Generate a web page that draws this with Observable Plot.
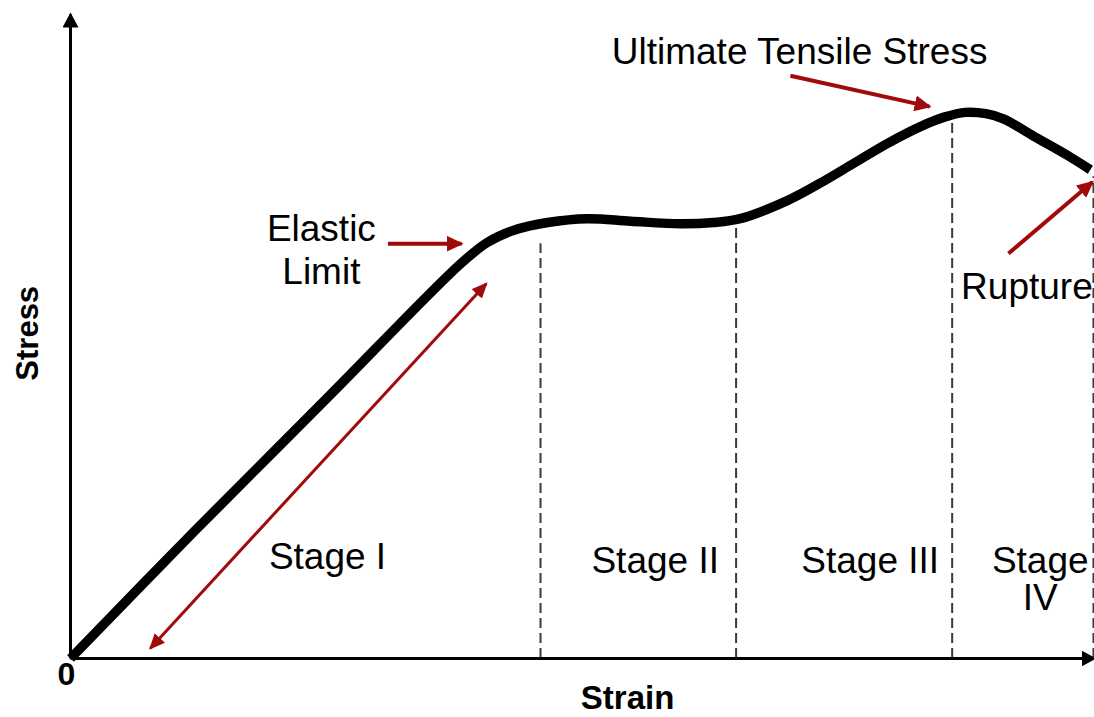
<!DOCTYPE html>
<html>
<head>
<meta charset="utf-8">
<script src="https://cdn.jsdelivr.net/npm/d3@7"></script>
<script src="https://cdn.jsdelivr.net/npm/@observablehq/plot@0.6"></script>
<style>
  html, body { margin: 0; padding: 0; background: #fff; }
  #chart { width: 1094px; height: 717px; overflow: hidden; }
  svg { overflow: visible; }
</style>
</head>
<body>
<div id="chart"></div>
<script>
// ---- Data (arbitrary units, 0–100 on both axes) ----
const strain = [0, 12.0, 25.1, 38.1, 40.7, 43.3, 46.6, 50.5, 54.7, 59.6, 62.8, 65.4, 70.0, 73.2, 76.5, 79.8, 83.0, 85.4, 87.4, 89.4, 91.1, 94.4, 97.7, 99.6];
const stress = [0, 19.6, 40.5, 61.3, 64.6, 66.5, 67.7, 68.3, 67.9, 67.5, 67.7, 68.3, 71.1, 73.8, 76.9, 80.0, 82.6, 84.1, 84.8, 84.6, 83.8, 80.8, 77.8, 75.9];

// stage boundaries (dashed verticals): strain position and top
const boundaryX = [45.9, 65.0, 86.1, 99.9];
const boundaryTop = [64.4, 67.1, 83.9, 74.8];

// stage labels
const stageLabels = ["Stage I", "Stage II", "Stage III", "Stage\nIV"];
const stageLabelX = [25.1, 57.1, 78.1, 94.7];
const stageLabelY = [15.8, 15.1, 15.1, 12.3];

// annotation labels
const noteLabels = ["Elastic\nLimit", "Ultimate Tensile Stress", "Rupture"];
const noteX = [24.5, 71.2, 93.4];
const noteY = [63.6, 94.4, 57.9];

// annotation arrows (single-headed)
const arrowX1 = [31.0, 70.3, 91.6];
const arrowY1 = [64.4, 90.5, 62.9];
const arrowX2 = [38.2, 83.9, 99.8];
const arrowY2 = [64.4, 85.7, 74.0];

// stage I double-headed arrow
const spanX = [7.8, 40.6];
const spanY = [1.6, 58.2];

// ---- tables built from arrays ----
const curve = strain.map((x, i) => ({x, y: stress[i]}));
const boundaries = boundaryX.map((x, i) => ({x, top: boundaryTop[i]}));
const stages = stageLabels.map((t, i) => ({t, x: stageLabelX[i], y: stageLabelY[i]}));
const notes = noteLabels.map((t, i) => ({t, x: noteX[i], y: noteY[i]}));
const arrows = arrowX1.map((x1, i) => ({x1, y1: arrowY1[i], x2: arrowX2[i], y2: arrowY2[i]}));
const span = [{x1: spanX[0], y1: spanY[0], x2: spanX[1], y2: spanY[1]}];

const RED = "#a00a0a";
const FONT = "'Liberation Sans', Arial, Helvetica, sans-serif";

function filledArrow(len, wid, overshoot) {
  return (color, context) => {
    const doc = (context && context.document) || document;
    const ns = "http://www.w3.org/2000/svg";
    const m = doc.createElementNS(ns, "marker");
    m.setAttribute("viewBox", `0 0 ${len} ${wid}`);
    m.setAttribute("markerWidth", len);
    m.setAttribute("markerHeight", wid);
    m.setAttribute("markerUnits", "userSpaceOnUse");
    m.setAttribute("refX", len - overshoot);
    m.setAttribute("refY", wid / 2);
    m.setAttribute("orient", "auto-start-reverse");
    const p = doc.createElementNS(ns, "path");
    p.setAttribute("d", `M0,0L${len},${wid / 2}L0,${wid}Z`);
    p.setAttribute("fill", color);
    p.setAttribute("stroke", "none");
    m.appendChild(p);
    return m;
  };
}

function build(custom) {
  const axisHead = custom ? filledArrow(15, 16, 2) : "arrow";
  const redHead = custom ? filledArrow(17, 16, 2) : "arrow";
  const spanHead = custom ? filledArrow(16, 14, 2) : "arrow";
  return Plot.plot({
    width: 1094,
    height: 717,
    marginLeft: 70,
    marginRight: 0,
    marginTop: 14,
    marginBottom: 59,
    x: {domain: [0, 100], axis: null},
    y: {domain: [0, 100], axis: null},
    style: {fontFamily: FONT, background: "white", color: "black"},
    marks: [
      // stage boundaries
      Plot.ruleX(boundaries, {x: "x", y1: 0, y2: "top", stroke: "#3a3a3a", strokeWidth: 2, strokeDasharray: "10,5"}),
      // axes with arrowheads
      Plot.link([{x1: 0, y1: 0, x2: 0, y2: 100}], {x1: "x1", y1: "y1", x2: "x2", y2: "y2", stroke: "black", strokeWidth: 3, markerEnd: axisHead}),
      Plot.link([{x1: 0, y1: 0, x2: 100, y2: 0}], {x1: "x1", y1: "y1", x2: "x2", y2: "y2", stroke: "black", strokeWidth: 3, markerEnd: axisHead}),
      // stress-strain curve
      Plot.line(curve, {x: "x", y: "y", curve: "catmull-rom", stroke: "black", strokeWidth: 9.5, strokeLinecap: "butt", strokeLinejoin: "round"}),
      // red annotation arrows
      Plot.link(arrows, {x1: "x1", y1: "y1", x2: "x2", y2: "y2", stroke: RED, strokeWidth: 4, markerEnd: redHead}),
      Plot.link(span, {x1: "x1", y1: "y1", x2: "x2", y2: "y2", stroke: RED, strokeWidth: 3, markerStart: spanHead, markerEnd: spanHead}),
      // labels
      Plot.text(stages, {x: "x", y: "y", text: "t", fontSize: 37, lineHeight: 1.02, fill: "black"}),
      Plot.text(notes, {x: "x", y: "y", text: "t", fontSize: 37, lineHeight: 1.17, fill: "black"}),
      Plot.text(["Strain"], {x: 54.4, y: -6.2, text: d => d, fontSize: 33, fontWeight: "bold", fill: "black"}),
      Plot.text(["Stress"], {x: -4.1, y: 50.5, text: d => d, fontSize: 31, fontWeight: "bold", rotate: -90, fill: "black"}),
      Plot.text(["0"], {x: -0.4, y: -2.5, text: d => d, fontSize: 32, fontWeight: "bold", fill: "black"})
    ]
  });
}

let chart;
try { chart = build(true); } catch (e) { chart = build(false); }
document.getElementById("chart").appendChild(chart);
</script>
</body>
</html>
